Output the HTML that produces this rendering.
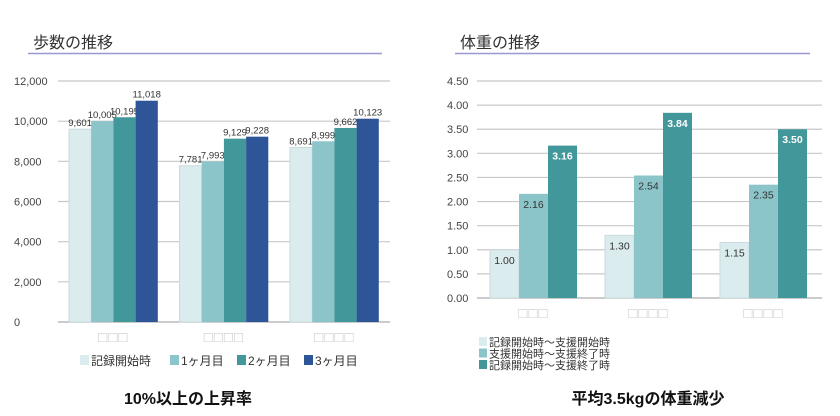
<!DOCTYPE html>
<html><head><meta charset="utf-8">
<style>
body{margin:0;background:#fff;}
svg{display:block;font-family:"Liberation Sans","Noto Sans CJK JP",sans-serif;}
</style></head>
<body>
<svg id="svg" width="840" height="416" viewBox="0 0 840 416" xmlns="http://www.w3.org/2000/svg">
<text x="33" y="48" font-size="16" fill="#333">歩数の推移</text>
<line x1="28" y1="53.5" x2="382" y2="53.5" stroke="#9a98d0" stroke-width="1.5"/>
<text x="460" y="48" font-size="16" fill="#333">体重の推移</text>
<line x1="455" y1="53.5" x2="810" y2="53.5" stroke="#9a98d0" stroke-width="1.5"/>
<g id="left"></g>
<g id="right"></g>
<text x="188" y="404" font-size="16" font-weight="bold" text-anchor="middle" fill="#111">10%以上の上昇率</text>
<text x="648" y="404" font-size="16" font-weight="bold" text-anchor="middle" fill="#111">平均3.5kgの体重減少</text>
</svg>
<script>
const stepCategories=["□□□","□□□□","□□□□"];
const stepSeriesNames=["記録開始時","1ヶ月目","2ヶ月目","3ヶ月目"];
const stepStart=[9601,7781,8691];
const step1m=[10005,7993,8999];
const step2m=[10195,9129,9662];
const step3m=[11018,9228,10123];
const stepTicks=[0,2000,4000,6000,8000,10000,12000];
const stepTickLabels=["0","2,000","4,000","6,000","8,000","10,000","12,000"];

const wCategories=["□□□","□□□□","□□□□"];
const wSeriesNames=["記録開始時～支援開始時","支援開始時～支援終了時","記録開始時～支援終了時"];
const wA=[1.00,1.30,1.15];
const wB=[2.16,2.54,2.35];
const wC=[3.16,3.84,3.50];
const wTicks=[0,0.5,1,1.5,2,2.5,3,3.5,4,4.5];
const wTickLabels=["0.00","0.50","1.00","1.50","2.00","2.50","3.00","3.50","4.00","4.50"];

const COLORS=["#dbecef","#8bc5c9","#42979b","#2e5597"];
const NS="http://www.w3.org/2000/svg";
function mk(parent,tag,attrs){const e=document.createElementNS(NS,tag);for(const k in attrs)e.setAttribute(k,attrs[k]);parent.appendChild(e);return e;}

function draw(g,o){
  const y=v=>o.y0-(v-o.min)/(o.max-o.min)*(o.y0-o.y1);
  o.ticks.forEach((t,i)=>{
    const ln=mk(g,'line',{x1:o.gx0,x2:o.gx1,y1:y(t),y2:y(t),stroke:i==0?'#bbb':'#c8c8c8','stroke-width':i==0?1.5:1.2});
    
    
    const tx=mk(g,'text',{x:o.lx,y:y(t)+4,'font-size':11,fill:'#444','text-anchor':o.anchor});
    tx.textContent=o.tickLabels[i];
    
    
  });
  o.series.forEach((s,si)=>{
    s.forEach((v,ci)=>{
      const x=o.gStart+ci*o.gStep+si*o.bw;
      const r=mk(g,'rect',{x:x,y:y(v),width:o.bw,height:o.y0-y(v),fill:COLORS[si],stroke:si==0?'#c9dadd':'none'});
      
      
      const lb=mk(g,'text',{x:x+o.bw/2,y:y(v)+o.labOff,'font-size':o.labSize,'text-anchor':'middle',fill:(o.whiteLast&&si==2)?'#fff':'#333','font-weight':(o.whiteLast&&si==2)?'bold':'normal'});
      lb.textContent=o.fmt(v);
      
      
    });
  });
  o.cats.forEach((c,ci)=>{
    const t=mk(g,'text',{x:o.gStart+ci*o.gStep+o.bw*o.series.length/2,y:o.y0+20,'font-size':15,'text-anchor':'middle',fill:'#ccc','letter-spacing':1});
    t.textContent=c;
    
    
  });
}
const L=document.getElementById('left');
draw(L,{min:0,max:12000,y0:322,y1:81,gx0:58,gx1:390,lx:14,anchor:'start',ticks:stepTicks,tickLabels:stepTickLabels,
  series:[stepStart,step1m,step2m,step3m],gStart:69,gStep:110.5,bw:22.2,cats:stepCategories,
  fmt:v=>v.toLocaleString('en-US'),labOff:-3,labSize:9.5,whiteLast:false});
let lx=80;
stepSeriesNames.forEach((n,i)=>{
  const r=mk(L,'rect',{x:lx,y:355,width:9,height:10,fill:COLORS[i]});
  
  
  const t=mk(L,'text',{x:lx+11,y:365,'font-size':12,fill:'#333'});
  t.textContent=n;
  
  
  lx+= i==0?90:67;
});
const R=document.getElementById('right');
draw(R,{min:0,max:4.5,y0:298,y1:81,gx0:477,gx1:822,lx:447,anchor:'start',ticks:wTicks,tickLabels:wTickLabels,
  series:[wA,wB,wC],gStart:490,gStep:115,bw:29,cats:wCategories,
  fmt:v=>v.toFixed(2),labOff:14,labSize:10.5,whiteLast:true});
wSeriesNames.forEach((n,i)=>{
  const r=mk(R,'rect',{x:479,y:337+i*11.5,width:8,height:9,fill:COLORS[i]});
  
  
  const t=mk(R,'text',{x:489,y:346+i*11.5,'font-size':11,fill:'#333'});
  t.textContent=n;
  
  
});
</script>
</body></html>
